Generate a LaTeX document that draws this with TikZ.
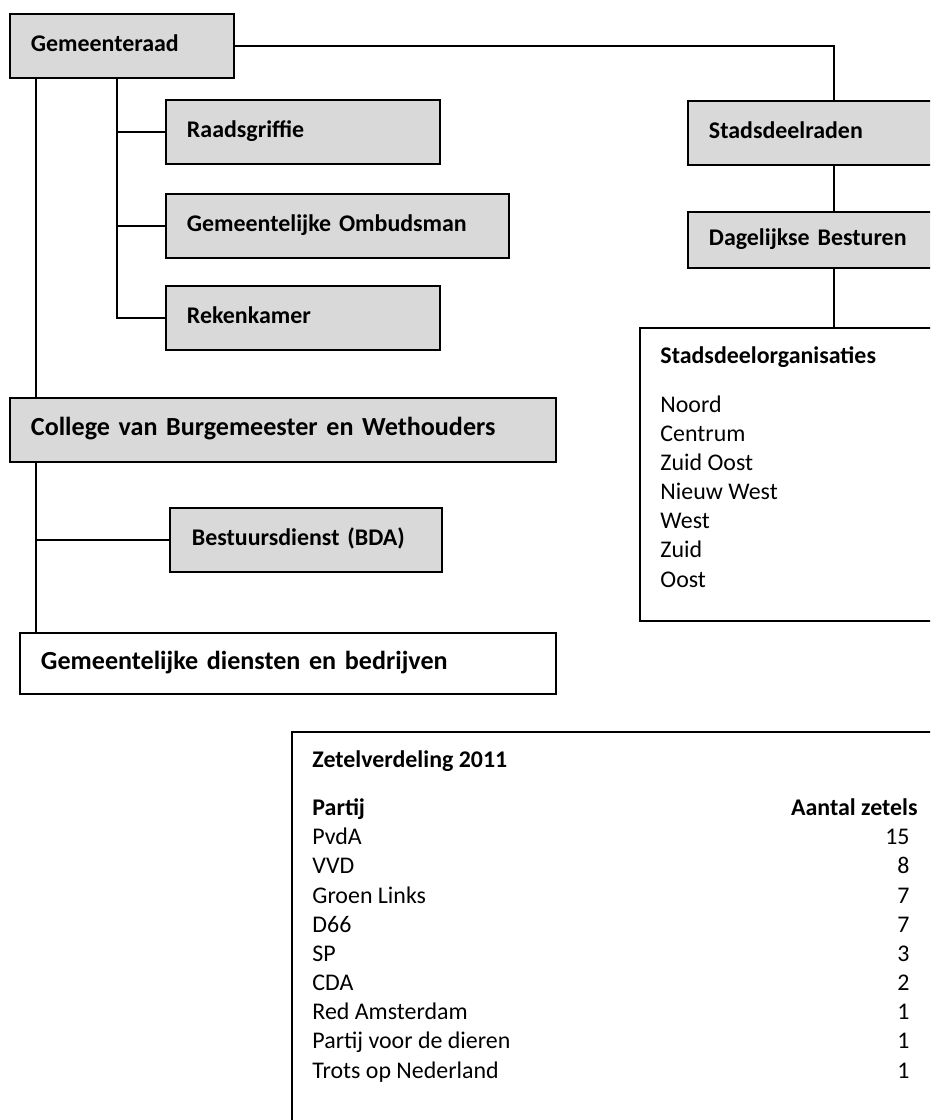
\documentclass[tikz,border=0pt]{standalone}
\usepackage{fontspec}
\setmainfont{Carlito}
\usetikzlibrary{positioning, calc}
\definecolor{boxgray}{HTML}{D9D9D9}
\tikzset{graybox/.style={draw=black, fill=boxgray, line width=0.9pt, anchor=north west, inner xsep=9.66pt, inner ysep=0pt, align=left, text height=8pt, text depth=2.5pt, font=\fontsize{11}{13.4}\selectfont\bfseries},
whitebox/.style={draw=black, fill=white, line width=0.9pt, anchor=north west, inner sep=0pt},
link/.style={draw=black, line width=0.8pt},
listtext/.style={anchor=base west, inner sep=0pt, font=\fontsize{11}{13.4}\selectfont},
listhead/.style={listtext, font=\fontsize{11}{13.4}\selectfont\bfseries}}

\begin{document}
\begin{tikzpicture}[x=0.46pt, y=-0.46pt]
        \useasboundingbox (0,0) rectangle (930,1120);
        \clip (0,0) rectangle (930,1120);
        % Gemeenteraad and its offices
        \node[graybox, text width=83.72pt, minimum height=29.44pt] (raad) at (9,13) {Gemeenteraad};
        \node[graybox, text width=106.72pt, minimum height=29.44pt] (grif) at (165,99) {Raadsgriffie};
        \node[graybox, text width=138.46pt, minimum height=29.44pt] (ombud) at (165,193) {Gemeentelijke Ombudsman};
        \node[graybox, text width=106.72pt, minimum height=29.44pt] (rek) at (165,285) {Rekenkamer};
        % College
        \node[graybox, text width=231.84pt, minimum height=29.44pt, font=\fontsize{12}{14.6}\selectfont\bfseries] (coll) at (9,397) {College van Burgemeester en Wethouders};
        \node[graybox, text width=104.88pt, minimum height=29.44pt, inner xsep=10.1pt] (bestuur) at (169,507) {Bestuursdienst (BDA)};
        \node[graybox, fill=white, text width=227.24pt, minimum height=28.06pt, font=\fontsize{12}{14.6}\selectfont\bfseries] (dien) at (19,632) {Gemeentelijke diensten en bedrijven};
        % Stadsdelen
        \node[graybox, text width=115pt, minimum height=29.44pt] (sdr) at (687,100) {Stadsdeelraden};
        \node[graybox, text width=115pt, minimum height=25.76pt] (dag) at (687,211) {Dagelijkse Besturen};
        \node[whitebox, minimum width=178.48pt, minimum height=134.78pt] (org) at (639,327) {};
        \node[listhead] (orgtitle) at (660,363) {Stadsdeelorganisaties};
        \foreach \y/\sdeel in {
            412/Noord,
            441/Centrum,
            470/Zuid Oost,
            499/Nieuw West,
            528/West,
            557/Zuid,
            587/Oost} {
            \node[listtext] (sd-\y) at (660,\y) {\sdeel};
        }
        % Zetelverdeling
        \node[whitebox, minimum width=322pt, minimum height=193.2pt] (zetel) at (291,731) {};
        \node[listhead] (zeteltitle) at (312,767) {Zetelverdeling 2011};
        \node[listhead] (partijhead) at (312,815) {Partij};
        \node[listhead, anchor=base east] (aantalhead) at (918,815) {Aantal zetels};
        \foreach \y/\partij/\zetels in {
            844/PvdA/15,
            873/VVD/8,
            903/Groen Links/7,
            932/D66/7,
            961/SP/3,
            990/CDA/2,
            1019/Red Amsterdam/1,
            1048/Partij voor de dieren/1,
            1078/Trots op Nederland/1} {
            \node[listtext] (partij-\y) at (312,\y) {\partij};
            \node[listtext, anchor=base east] (zetels-\y) at (910,\y) {\zetels};
        }
        % Connectors
        \coordinate (spine) at ($(raad.south west)+(108,0)$);
        \coordinate (trunk) at ($(raad.south west)+(27,0)$);
        \coordinate (trunkb) at ($(coll.south west)+(27,0)$);
        \draw[link] (raad.east) -| (sdr.north);
        \draw[link] (sdr.south) -- (dag.north);
        \draw[link] (dag.south) -- (dag.south |- org.north);
        \draw[link] (spine) |- (rek.west);
        \draw[link] (spine |- grif.west) -- (grif.west);
        \draw[link] (spine |- ombud.west) -- (ombud.west);
        \draw[link] (trunk) -- (trunk |- coll.north);
        \draw[link] (trunkb) -- (trunkb |- dien.north);
        \draw[link] (trunkb |- bestuur.west) -- (bestuur.west);
    \end{tikzpicture}
\end{document}
